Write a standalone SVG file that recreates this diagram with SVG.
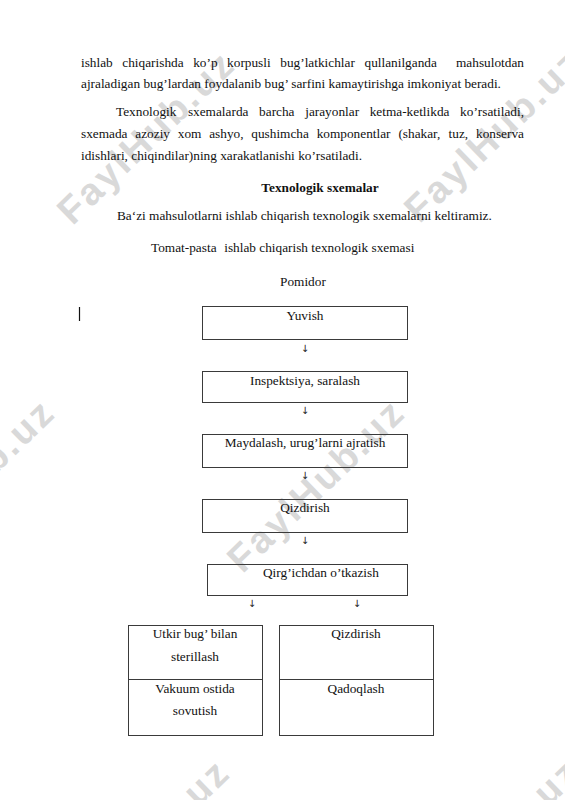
<svg xmlns="http://www.w3.org/2000/svg" width="565" height="800" viewBox="0 0 565 800">
<style>
.t{font-family:"Liberation Serif","Times New Roman",serif;font-size:13.3px;fill:#111}
.b{font-weight:bold}
.c{text-anchor:middle}
.box{fill:none;stroke:#3a3a3a;stroke-width:1}
.wm{font-family:"Liberation Sans",Arial,sans-serif;font-weight:bold;font-size:38px;fill:#d9d9d9;text-anchor:middle}
.ar{font-family:"DejaVu Sans","Liberation Serif",serif;font-size:10px;fill:#222;text-anchor:middle}
</style>
<rect width="565" height="800" fill="#fff"/>
<g id="watermarks">
<text class="wm" transform="translate(145,138) rotate(-44)" y="13" textLength="227" lengthAdjust="spacing">FaylHub.uz</text>
<text class="wm" transform="translate(492,136) rotate(-44)" y="13" textLength="227" lengthAdjust="spacing">FaylHub.uz</text>
<text class="wm" transform="translate(315,486) rotate(-44)" y="13" textLength="227" lengthAdjust="spacing">FaylHub.uz</text>
<text class="wm" transform="translate(-35,486) rotate(-44)" y="13" textLength="227" lengthAdjust="spacing">FaylHub.uz</text>
<text class="wm" transform="translate(140,846) rotate(-44)" y="13" textLength="227" lengthAdjust="spacing">FaylHub.uz</text>
<text class="wm" transform="translate(490,846) rotate(-44)" y="13" textLength="227" lengthAdjust="spacing">FaylHub.uz</text>
</g>
<g id="body-text">
<text class="t" y="67"><tspan x="81">ishlab</tspan><tspan x="122.3">chiqarishda</tspan><tspan x="193.2">ko’p</tspan><tspan x="227.1">korpusli</tspan><tspan x="280.3">bug’latkichlar</tspan><tspan x="364.5">qullanilganda</tspan><tspan x="456">mahsulotdan</tspan></text>
<text class="t" x="81" y="88">ajraladigan bug’lardan foydalanib bug’ sarfini kamaytirishga imkoniyat beradi.</text>
<text class="t" y="116"><tspan x="116">Texnologik</tspan><tspan x="187.9">sxemalarda</tspan><tspan x="259.1">barcha</tspan><tspan x="305.2">jarayonlar</tspan><tspan x="369.7">ketma-ketlikda</tspan><tspan x="460.1">ko’rsatiladi,</tspan></text>
<text class="t" y="138"><tspan x="81">sxemada</tspan><tspan x="135.3">azoziy</tspan><tspan x="177.8">xom</tspan><tspan x="209.2">ashyo,</tspan><tspan x="251.3">qushimcha</tspan><tspan x="316.7">komponentlar</tspan><tspan x="398.4">(shakar,</tspan><tspan x="448.6">tuz,</tspan><tspan x="476">konserva</tspan></text>
<text class="t" x="81" y="160">idishlari, chiqindilar)ning xarakatlanishi ko’rsatiladi.</text>
<text class="t b c" x="320" y="192">Texnologik sxemalar</text>
<text class="t" x="117" y="220">Ba‘zi mahsulotlarni ishlab chiqarish texnologik sxemalarni keltiramiz.</text>
<text class="t" y="252"><tspan x="151">Tomat-pasta</tspan><tspan x="224.2">ishlab chiqarish texnologik sxemasi</tspan></text>
<text class="t" x="280" y="286">Pomidor</text>
<line x1="79.5" y1="307" x2="79.5" y2="321" stroke="#111" stroke-width="1.2"/>
</g>
<g id="connectors">
<text class="ar" x="305" y="352">↓</text>
<text class="ar" x="305" y="414">↓</text>
<text class="ar" x="305" y="479">↓</text>
<text class="ar" x="305" y="544">↓</text>
<text class="ar" x="252" y="607">↓</text>
<text class="ar" x="357" y="607">↓</text>
</g>
<g id="n1"><rect class="box" x="202.5" y="306.5" width="205" height="33"/><text class="t c" x="305" y="320">Yuvish</text></g>
<g id="n2"><rect class="box" x="202.5" y="371.5" width="205" height="31"/><text class="t c" x="305" y="385">Inspektsiya, saralash</text></g>
<g id="n3"><rect class="box" x="202.5" y="434.5" width="205" height="33"/><text class="t c" x="305" y="447">Maydalash, urug’larni ajratish</text></g>
<g id="n4"><rect class="box" x="202.5" y="499.5" width="205" height="33"/><text class="t c" x="305" y="512">Qizdirish</text></g>
<g id="n5"><rect class="box" x="207.5" y="564.5" width="200" height="31"/><text class="t" x="263" y="577">Qirg’ichdan o’tkazish</text></g>
<g id="n6"><rect class="box" x="128.5" y="625.5" width="134" height="54"/><text class="t c" x="195" y="638">Utkir bug’ bilan</text><text class="t c" x="195" y="661">sterillash</text></g>
<g id="n7"><rect class="box" x="128.5" y="679.5" width="134" height="56"/><text class="t c" x="195" y="693">Vakuum ostida</text><text class="t c" x="195" y="715">sovutish</text></g>
<g id="n8"><rect class="box" x="279.5" y="625.5" width="154" height="54"/><text class="t c" x="356" y="638">Qizdirish</text></g>
<g id="n9"><rect class="box" x="279.5" y="679.5" width="154" height="56"/><text class="t c" x="356" y="693">Qadoqlash</text></g>
</svg>
